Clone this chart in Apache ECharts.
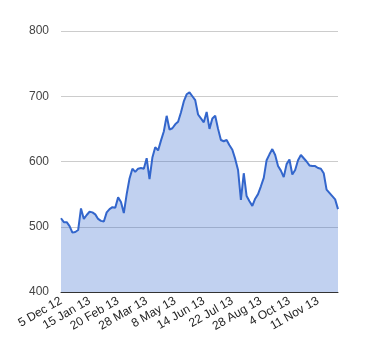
<!DOCTYPE html>
<html>
<head>
<meta charset="utf-8">
<script src="https://cdn.jsdelivr.net/npm/echarts@6/dist/echarts.min.js"></script>
<style>
html,body{margin:0;padding:0;background:#fff;}
#chart{width:380px;height:360px;}
</style>
</head>
<body>
<div id="chart"></div>
<script>
var dates = [
'5 Dec 12','10 Dec 12','14 Dec 12','18 Dec 12','21 Dec 12','27 Dec 12','31 Dec 12','4 Jan 13','8 Jan 13','11 Jan 13',
'15 Jan 13','18 Jan 13','23 Jan 13','28 Jan 13','31 Jan 13','4 Feb 13','7 Feb 13','11 Feb 13','14 Feb 13','18 Feb 13',
'20 Feb 13','25 Feb 13','28 Feb 13','5 Mar 13','8 Mar 13','12 Mar 13','15 Mar 13','19 Mar 13','22 Mar 13','26 Mar 13',
'28 Mar 13','3 Apr 13','8 Apr 13','12 Apr 13','16 Apr 13','19 Apr 13','24 Apr 13','29 Apr 13','1 May 13','6 May 13',
'8 May 13','13 May 13','16 May 13','21 May 13','24 May 13','29 May 13','3 Jun 13','6 Jun 13','10 Jun 13','12 Jun 13',
'14 Jun 13','19 Jun 13','24 Jun 13','27 Jun 13','2 Jul 13','5 Jul 13','9 Jul 13','12 Jul 13','16 Jul 13','19 Jul 13',
'22 Jul 13','25 Jul 13','30 Jul 13','2 Aug 13','6 Aug 13','9 Aug 13','14 Aug 13','19 Aug 13','22 Aug 13','26 Aug 13',
'28 Aug 13','3 Sep 13','6 Sep 13','11 Sep 13','16 Sep 13','19 Sep 13','23 Sep 13','25 Sep 13','27 Sep 13','1 Oct 13',
'4 Oct 13','9 Oct 13','14 Oct 13','17 Oct 13','22 Oct 13','25 Oct 13','30 Oct 13','1 Nov 13','5 Nov 13','8 Nov 13',
'11 Nov 13','14 Nov 13','19 Nov 13','22 Nov 13','27 Nov 13','2 Dec 13','5 Dec 13','10 Dec 13'
];
var values = [
513,507,507,501,491,492,495,528,512,518,
523,522,519,512,509,508,522,527,530,529,
545,538,521,550,574,589,584,589,590,589,
605,573,606,622,617,632,646,670,649,651,
657,661,675,692,703,706,700,694,672,666,
660,676,650,666,670,650,633,631,633,625,
618,604,587,541,582,547,539,532,543,550,
562,575,602,611,619,610,593,586,576,596,
603,580,587,602,610,605,600,594,593,593,
590,589,582,557,552,547,542,527
];
var yTicks = [400, 500, 600, 700, 800];

var chart = echarts.init(document.getElementById('chart'), null, {renderer: 'canvas'});
chart.setOption({
  animation: false,
  grid: {left: 61, right: 42, top: 31, bottom: 68},
  xAxis: {
    type: 'category',
    data: dates,
    boundaryGap: false,
    axisLine: {show: true, lineStyle: {color: '#333', width: 1}},
    axisTick: {show: false},
    axisLabel: {
      interval: 9, rotate: 30, margin: 8,
      fontFamily: 'Liberation Sans, Arial, sans-serif', fontSize: 12, color: '#222'
    },
    splitLine: {show: false}
  },
  yAxis: {
    type: 'value',
    min: yTicks[0], max: yTicks[yTicks.length - 1], interval: 100,
    axisLine: {show: false},
    axisTick: {show: false},
    axisLabel: {margin: 12, fontFamily: 'Liberation Sans, Arial, sans-serif', fontSize: 12, color: '#444'},
    splitLine: {lineStyle: {color: '#cccccc', width: 1}}
  },
  series: [{
    type: 'line',
    data: values,
    symbol: 'none',
    lineStyle: {color: '#3366cc', width: 2},
    areaStyle: {color: '#3366cc', opacity: 0.3},
    itemStyle: {color: '#3366cc'}
  }]
});
</script>
</body>
</html>
